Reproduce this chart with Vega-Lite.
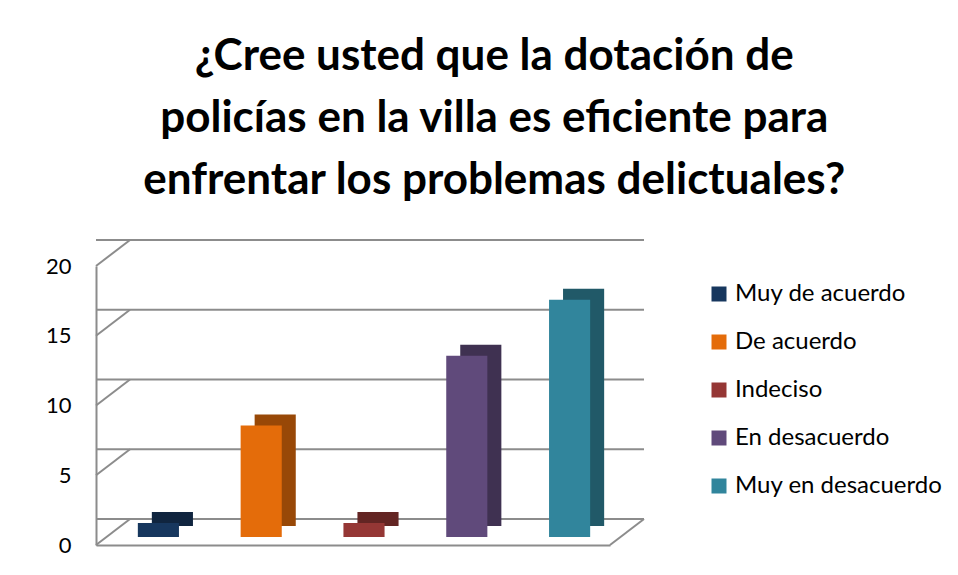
{
  "$schema": "https://vega.github.io/schema/vega-lite/v6.json",
  "autosize": "none",
  "width": 514,
  "height": 279,
  "padding": {"left": 96, "top": 266, "right": 348, "bottom": 30},
  "background": "white",
  "config": {"view": {"stroke": null}, "font": "Lato"},
  "title": {
    "text": ["¿Cree usted que la dotación de", "policías en la villa es eficiente para", "enfrentar los problemas delictuales?"],
    "fontSize": 44,
    "fontWeight": "bold",
    "font": "Lato",
    "color": "#000000",
    "lineHeight": 62,
    "anchor": "middle",
    "frame": "bounds",
    "offset": 36
  },
  "datasets": {
    "respuestas": [
      {"respuesta": "Muy de acuerdo", "cantidad": 1},
      {"respuesta": "De acuerdo", "cantidad": 8},
      {"respuesta": "Indeciso", "cantidad": 1},
      {"respuesta": "En desacuerdo", "cantidad": 13},
      {"respuesta": "Muy en desacuerdo", "cantidad": 17}
    ],
    "niveles": [{"v": 0}, {"v": 5}, {"v": 10}, {"v": 15}, {"v": 20}]
  },
  "layer": [
    {
      "data": {"name": "niveles"},
      "mark": {"type": "rule", "color": "#8c8c8c", "strokeWidth": 2, "xOffset": 34, "x2Offset": 34, "yOffset": -26},
      "encoding": {
        "y": {"field": "v", "type": "quantitative", "scale": {"domain": [0, 20], "nice": false},
          "axis": {"title": null, "values": [0, 5, 10, 15, 20], "grid": false, "ticks": false, "domain": true, "domainColor": "#8c8c8c", "domainWidth": 2, "labelFontSize": 22, "labelColor": "#000000", "labelPadding": 25, "labelFont": "Lato"}}
      }
    },
    {
      "data": {"name": "niveles"},
      "mark": {"type": "rule", "color": "#8c8c8c", "strokeWidth": 2, "x2Offset": 34, "y2Offset": -26},
      "encoding": {
        "x": {"value": 0},
        "x2": {"value": 0},
        "y": {"field": "v", "type": "quantitative"},
        "y2": {"field": "v"}
      }
    },
    {
      "data": {"values": [{"v": 0}]},
      "mark": {"type": "rule", "color": "#8c8c8c", "strokeWidth": 2, "x2Offset": 34, "y2Offset": -26},
      "encoding": {
        "x": {"value": {"expr": "width"}},
        "x2": {"value": {"expr": "width"}},
        "y": {"field": "v", "type": "quantitative"},
        "y2": {"field": "v"}
      }
    },
    {
      "data": {"name": "respuestas"},
      "mark": {"type": "bar", "xOffset": 25, "x2Offset": 25, "yOffset": -19, "y2Offset": -19},
      "encoding": {
        "x": {"field": "respuesta", "type": "nominal", "sort": null, "scale": {"paddingInner": 0.6, "paddingOuter": 0.3},
          "axis": {"title": null, "labels": false, "ticks": false, "domain": true, "domainColor": "#8c8c8c", "domainWidth": 2, "grid": false}},
        "y": {"field": "cantidad", "type": "quantitative"},
        "color": {
          "field": "respuesta", "type": "nominal", "sort": null,
          "scale": {"domain": ["Muy de acuerdo", "De acuerdo", "Indeciso", "En desacuerdo", "Muy en desacuerdo"], "range": ["#10253f", "#984807", "#632523", "#3f3151", "#215968"]},
          "legend": null
        }
      }
    },
    {
      "data": {"name": "respuestas"},
      "mark": {"type": "bar", "xOffset": 11, "x2Offset": 11, "yOffset": -8, "y2Offset": -8},
      "encoding": {
        "x": {"field": "respuesta", "type": "nominal", "sort": null},
        "y": {"field": "cantidad", "type": "quantitative"},
        "color": {
          "field": "respuesta", "type": "nominal", "sort": null,
          "scale": {"domain": ["Muy de acuerdo", "De acuerdo", "Indeciso", "En desacuerdo", "Muy en desacuerdo"], "range": ["#17375e", "#e46c0a", "#953735", "#604a7b", "#31859c"]},
          "legend": {"title": null, "orient": "none", "legendX": 611, "legendY": 16, "symbolType": "square", "symbolSize": 225, "symbolStrokeWidth": 0, "labelFontSize": 24, "labelFont": "Lato", "labelColor": "#000000", "rowPadding": 24, "labelOffset": 4, "labelLimit": 300}
        }
      }
    }
  ],
  "resolve": {"scale": {"color": "independent"}}
}
